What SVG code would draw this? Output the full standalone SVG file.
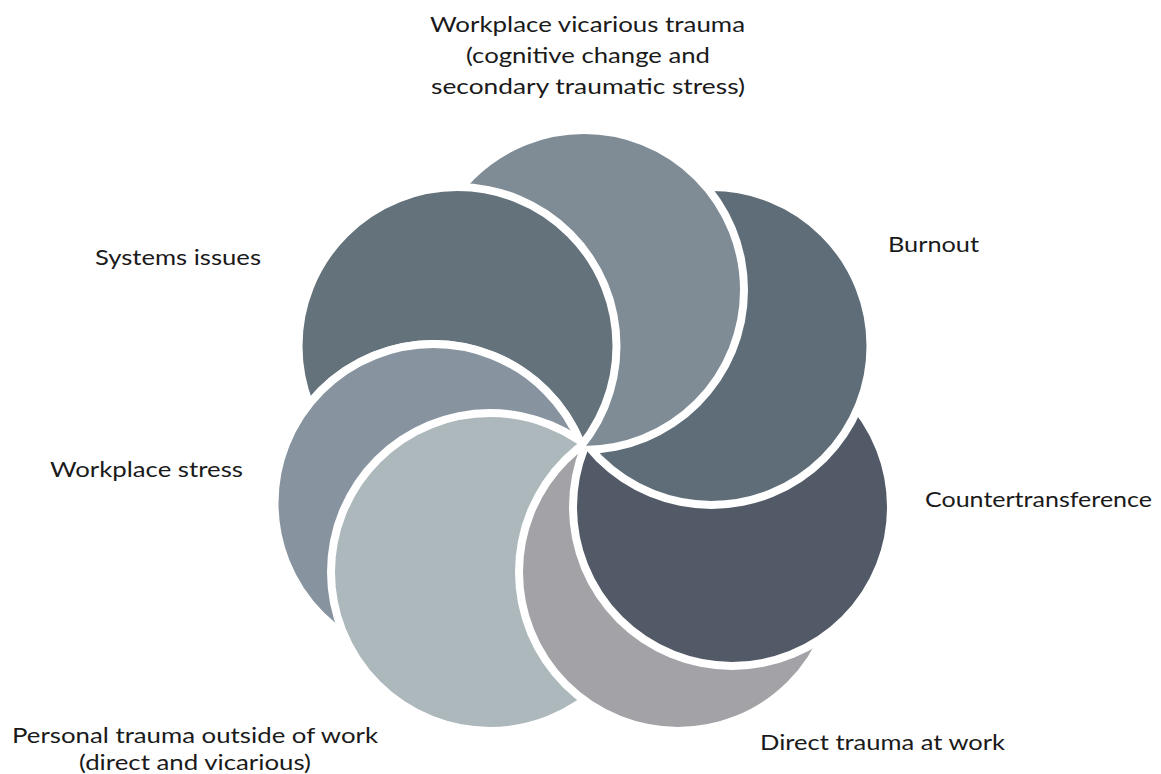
<svg xmlns="http://www.w3.org/2000/svg" width="1161" height="774" viewBox="0 0 1161 774">
<style>
.lbl{font-family:Lato,"Noto Sans","DejaVu Sans",sans-serif;font-size:22px;fill:#1a1a1a}
.petal{stroke:#ffffff;stroke-width:8}
</style>
<defs>
<mask id="m-sy" maskUnits="userSpaceOnUse" x="0" y="0" width="1161" height="774"><rect width="1161" height="774" fill="#fff"/><circle cx="433.5" cy="503" r="163" fill="#000"/></mask>
<mask id="m-v" maskUnits="userSpaceOnUse" x="0" y="0" width="1161" height="774"><rect width="1161" height="774" fill="#fff"/><circle cx="457.5" cy="346" r="163" fill="#000"/></mask>
<mask id="m-b" maskUnits="userSpaceOnUse" x="0" y="0" width="1161" height="774"><rect width="1161" height="774" fill="#fff"/><circle cx="584" cy="290" r="164" fill="#000"/></mask>
<mask id="m-c" maskUnits="userSpaceOnUse" x="0" y="0" width="1161" height="774"><rect width="1161" height="774" fill="#fff"/><circle cx="711.5" cy="346" r="163" fill="#000"/></mask>
<mask id="m-d" maskUnits="userSpaceOnUse" x="0" y="0" width="1161" height="774"><rect width="1161" height="774" fill="#fff"/><circle cx="732" cy="507" r="163" fill="#000"/></mask>
<mask id="m-pe" maskUnits="userSpaceOnUse" x="0" y="0" width="1161" height="774"><rect width="1161" height="774" fill="#fff"/><circle cx="678" cy="572" r="163" fill="#000"/></mask>
<mask id="m-s" maskUnits="userSpaceOnUse" x="0" y="0" width="1161" height="774"><rect width="1161" height="774" fill="#fff"/><circle cx="490" cy="572" r="163" fill="#000"/></mask>
</defs>
<rect width="1161" height="774" fill="#ffffff"/>
<g id="node-systems-issues">
<circle class="petal" cx="457.5" cy="346" r="159" fill="#64727b" mask="url(#m-sy)"/>
<text class="lbl" x="95" y="265" textLength="166" lengthAdjust="spacingAndGlyphs">Systems issues</text>
</g>
<g id="node-workplace-vicarious-trauma">
<circle class="petal" cx="584" cy="290" r="160" fill="#7f8c95" mask="url(#m-v)"/>
<text class="lbl" x="430" y="32" textLength="315" lengthAdjust="spacingAndGlyphs">Workplace vicarious trauma</text>
<text class="lbl" x="466" y="63" textLength="244" lengthAdjust="spacingAndGlyphs">(cognitive change and</text>
<text class="lbl" x="431" y="94" textLength="314" lengthAdjust="spacingAndGlyphs">secondary traumatic stress)</text>
</g>
<g id="node-burnout">
<circle class="petal" cx="711.5" cy="346" r="159" fill="#5e6d77" mask="url(#m-b)"/>
<text class="lbl" x="888" y="252" textLength="91" lengthAdjust="spacingAndGlyphs">Burnout</text>
</g>
<g id="node-countertransference">
<circle class="petal" cx="732" cy="507" r="159" fill="#525967" mask="url(#m-c)"/>
<text class="lbl" x="925" y="507" textLength="227" lengthAdjust="spacingAndGlyphs">Countertransference</text>
</g>
<g id="node-direct-trauma-at-work">
<circle class="petal" cx="678" cy="572" r="159" fill="#a3a2a7" mask="url(#m-d)"/>
<text class="lbl" x="760" y="750" textLength="245" lengthAdjust="spacingAndGlyphs">Direct trauma at work</text>
</g>
<g id="node-personal-trauma">
<circle class="petal" cx="490" cy="572" r="159" fill="#adb8bc" mask="url(#m-pe)"/>
<text class="lbl" x="12" y="743" textLength="366" lengthAdjust="spacingAndGlyphs">Personal trauma outside of work</text>
<text class="lbl" x="79" y="770" textLength="232" lengthAdjust="spacingAndGlyphs">(direct and vicarious)</text>
</g>
<g id="node-workplace-stress">
<circle class="petal" cx="433.5" cy="503" r="159" fill="#8794a0" mask="url(#m-s)"/>
<text class="lbl" x="50" y="477" textLength="193" lengthAdjust="spacingAndGlyphs">Workplace stress</text>
</g>
</svg>
